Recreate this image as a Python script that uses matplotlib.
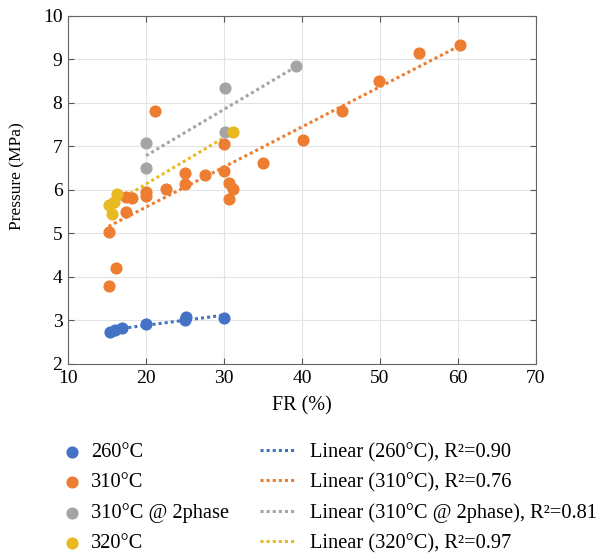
import matplotlib.pyplot as plt
import numpy as np

plt.rcParams["font.family"] = ["Liberation Serif", "DejaVu Serif"]
plt.rcParams["font.size"] = 13

# data: FR (%) and pressure (MPa)
fr_260 = [15.4, 16.0, 16.9, 20.0, 25.0, 25.1, 30.0]
p_260 = [2.74, 2.78, 2.83, 2.92, 3.02, 3.07, 3.06]

fr_310 = [15.2, 15.2, 16.15, 17.5, 17.5, 18.2, 20.0, 20.0, 21.1, 22.6, 25.0, 25.0,
          27.6, 30.0, 30.0, 30.7, 31.2, 30.7, 35.0, 40.1, 45.1, 49.9, 55.0, 60.2]
p_310 = [3.79, 5.03, 4.20, 5.49, 5.83, 5.81, 5.96, 5.85, 7.80, 6.02, 6.38, 6.14,
         6.35, 7.06, 6.44, 6.15, 6.03, 5.79, 6.61, 7.14, 7.81, 8.51, 9.14, 9.32]

fr_2ph = [20.0, 20.0, 30.1, 30.1, 39.2]
p_2ph = [7.08, 6.51, 8.35, 7.32, 8.85]

fr_320 = [15.3, 15.6, 15.9, 16.3, 31.2]
p_320 = [5.66, 5.45, 5.72, 5.91, 7.32]

names = ["260°C", "310°C", "310°C @ 2phase", "320°C"]
r2 = ["0.90", "0.76", "0.81", "0.97"]
colors = ["#4472C4", "#ED7D31", "#A5A5A5", "#E8B921"]
series = [(fr_260, p_260), (fr_310, p_310), (fr_2ph, p_2ph), (fr_320, p_320)]

fig = plt.figure(figsize=(5.98, 5.6), dpi=100)
ax = fig.add_axes([0.1137, 0.35, 0.7826, 0.622])

dots = []
lines = []
for (x, y), c, n, r in zip(series, colors, names, r2):
    d = ax.scatter(x, y, s=60, color=c, zorder=3, label=n)
    k, b = np.polyfit(x, y, 1)
    xs = np.array([min(x), max(x)])
    ln, = ax.plot(xs, k * xs + b, ls=(0, (1, 1)), lw=2.2, color=c, zorder=2,
                  label=f"Linear ({n}), R²={r}")
    dots.append(d)
    lines.append(ln)

ax.set_xlim(10, 70)
ax.set_ylim(2, 10)
ax.set_xticks(range(10, 71, 10))
ax.set_yticks(range(2, 11))
ax.grid(True, color="#e3e3e3", lw=0.8)
ax.set_axisbelow(True)
ax.tick_params(direction="in", top=True, right=True, length=4, color="#555555",
               labelsize=14, pad=4)
for sp in ax.spines.values():
    sp.set_color("#666666")
ax.set_xlabel("FR (%)", fontsize=14.5)
ax.set_ylabel("Pressure (MPa)", fontsize=12.5)
ax.xaxis.set_label_coords(0.5, -0.092)
ax.yaxis.set_label_coords(-0.092, 0.54)

leg1 = fig.legend(handles=dots, loc="upper left", bbox_to_anchor=(0.076, 0.242),
                  frameon=False, handlelength=0.8, handletextpad=0.55,
                  labelspacing=0.53, fontsize=14.7, scatterpoints=1)
leg2 = fig.legend(handles=lines, loc="upper left", bbox_to_anchor=(0.404, 0.242),
                  frameon=False, handlelength=1.73, handletextpad=0.7,
                  labelspacing=0.53, fontsize=14.7)

fig.savefig("out.png", dpi=100)
